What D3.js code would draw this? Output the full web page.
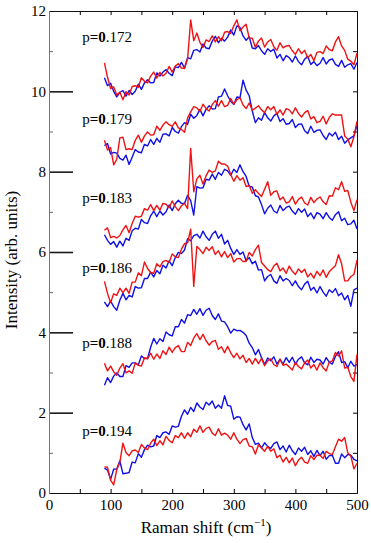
<!DOCTYPE html>
<html>
<head>
<meta charset="utf-8">
<script src="https://cdn.jsdelivr.net/npm/d3@7"></script>
</head>
<body style="margin:0">
<script>
// Raman shift grid (cm^-1), one reading every 5 cm^-1 from 90 to 500
const shifts = d3.range(90, 501, 5);

const dopings = ['0.172', '0.179', '0.183', '0.186', '0.188', '0.194'];

const blue172 = [
	10.34, 10.14, 10.2, 10.0, 9.86, 9.97, 10.02, 9.88, 10.02, 9.92,
	10.0, 10.18, 10.05, 10.21, 10.29, 10.21, 10.22, 10.46, 10.38, 10.48,
	10.54, 10.45, 10.39, 10.61, 10.59, 10.72, 10.58, 10.84, 10.81, 11.02,
	11.04, 10.98, 11.18, 11.08, 11.06, 11.25, 11.37, 11.21, 11.32, 11.25,
	11.35, 11.53, 11.4, 11.63, 11.59, 11.38, 11.27, 11.36, 11.08, 11.06,
	11.14, 11.01, 10.92, 11.06, 10.99, 11.05, 10.83, 10.92, 10.76, 10.89,
	10.84, 10.73, 10.88, 10.74, 10.66, 10.8, 10.87, 10.67, 10.74, 10.64,
	10.7, 10.84, 10.68, 10.78, 10.81, 10.67, 10.62, 10.77, 10.6, 10.66,
	10.69, 10.55, 10.72,
];
const red172 = [
	10.71, 10.35, 10.07, 10.11, 9.91, 9.98, 9.79, 9.99, 9.91, 10.12,
	10.14, 10.1, 10.34, 10.25, 10.21, 10.38, 10.48, 10.33, 10.47, 10.38,
	10.45, 10.62, 10.48, 10.63, 10.69, 10.58, 10.57, 10.81, 11.78, 11.26,
	11.45, 11.22, 11.09, 11.28, 11.24, 11.38, 11.23, 11.36, 11.26, 11.47,
	11.49, 11.44, 11.63, 11.78, 11.51, 11.6, 11.67, 11.33, 11.32, 11.1,
	11.25, 11.33, 11.1, 11.23, 11.29, 11.11, 11.02, 11.21, 11.08, 11.13,
	11.14, 11.01, 10.92, 11.06, 10.94, 11.02, 10.83, 10.92, 10.76, 10.97,
	10.99, 10.94, 11.13, 11.04, 11.01, 11.23, 11.36, 11.13, 11.02, 10.8,
	10.75, 10.66, 10.95,
];
const blue179 = [
	8.65, 8.7, 8.44, 8.48, 8.46, 8.33, 8.29, 8.41, 8.18, 8.36,
	8.55, 8.49, 8.47, 8.68, 8.64, 8.8, 8.68, 8.83, 8.73, 8.93,
	8.94, 8.89, 9.1, 9.0, 8.96, 9.12, 9.22, 9.18, 9.43, 9.33,
	9.4, 9.55, 9.39, 9.55, 9.64, 9.56, 9.57, 9.86, 9.88, 10.06,
	9.89, 9.75, 9.67, 9.86, 9.84, 10.28, 10.03, 9.89, 9.51, 9.22,
	9.34, 9.28, 9.47, 9.34, 9.26, 9.39, 9.45, 9.25, 9.32, 9.18,
	9.2, 9.3, 9.1, 9.18, 9.19, 9.02, 8.95, 9.13, 8.98, 9.03,
	9.04, 8.9, 8.8, 8.96, 8.89, 8.98, 8.8, 8.88, 8.71, 8.79,
	8.84, 8.89, 9.15,
];
const red179 = [
	8.78, 8.54, 8.6, 8.17, 8.31, 8.84, 8.86, 8.55, 8.57, 8.55,
	8.78, 8.91, 8.73, 8.89, 8.99, 8.91, 8.92, 9.13, 9.03, 9.16,
	9.24, 9.17, 9.13, 9.24, 9.09, 9.05, 8.98, 9.34, 9.49, 9.62,
	9.59, 9.5, 9.68, 9.57, 9.51, 9.67, 9.77, 9.63, 9.77, 9.62,
	9.65, 9.82, 9.68, 9.79, 9.84, 9.66, 9.57, 9.71, 9.53, 9.58,
	9.64, 9.54, 9.47, 9.62, 9.54, 9.62, 9.43, 9.54, 9.41, 9.57,
	9.54, 9.44, 9.59, 9.45, 9.36, 9.47, 9.52, 9.31, 9.37, 9.22,
	9.25, 9.38, 9.19, 9.35, 9.44, 9.41, 9.41, 9.41, 8.89, 8.81,
	8.62, 8.87, 9.25,
];
const blue183 = [
	6.43, 6.29, 6.19, 6.26, 6.12, 6.27, 6.15, 6.34, 6.29, 6.53,
	6.59, 6.57, 6.81, 6.73, 6.71, 6.9, 7.02, 6.88, 7.02, 6.92,
	7.0, 7.17, 7.03, 7.2, 7.29, 7.21, 7.21, 7.41, 7.28, 6.92,
	7.63, 7.59, 7.6, 7.81, 7.79, 7.94, 7.81, 7.98, 7.91, 8.06,
	8.02, 7.91, 8.06, 7.98, 8.17, 8.0, 7.88, 7.63, 7.62, 7.4,
	7.37, 7.18, 6.95, 7.09, 7.17, 7.02, 6.97, 7.16, 7.03, 7.11,
	7.14, 7.02, 6.94, 7.08, 6.99, 7.07, 6.88, 6.97, 6.83, 6.98,
	6.94, 6.83, 6.98, 6.86, 6.79, 6.93, 7.0, 6.78, 6.84, 6.68,
	6.7, 6.79, 6.57,
];
const red183 = [
	6.54, 6.6, 6.36, 6.39, 6.35, 6.41, 6.55, 6.66, 6.48, 6.71,
	6.89, 6.87, 6.89, 7.08, 7.04, 7.18, 7.03, 7.16, 7.04, 7.21,
	7.19, 7.1, 7.27, 7.13, 7.03, 7.15, 7.21, 7.08, 8.58, 7.5,
	7.82, 7.91, 7.69, 7.9, 8.04, 7.98, 8.02, 8.26, 8.19, 8.19,
	8.14, 7.93, 7.76, 7.9, 7.79, 7.85, 7.63, 7.66, 7.46, 7.55,
	7.46, 7.38, 7.56, 7.75, 7.41, 7.5, 7.52, 7.3, 7.37, 7.22,
	7.25, 7.38, 7.19, 7.31, 7.37, 7.22, 7.17, 7.36, 7.23, 7.32,
	7.37, 7.25, 7.18, 7.4, 7.39, 7.6, 7.55, 7.75, 7.51, 7.53,
	7.24, 7.03, 7.3,
];
const blue186 = [
	4.76, 4.64, 4.78, 4.64, 4.55, 4.8, 4.97, 4.81, 4.92, 4.88,
	5.14, 5.1, 5.11, 5.34, 5.34, 5.5, 5.38, 5.54, 5.46, 5.67,
	5.6, 5.78, 5.66, 5.86, 5.99, 5.96, 6.05, 6.33, 6.28, 6.41,
	6.44, 6.35, 6.52, 6.38, 6.29, 6.44, 6.52, 6.34, 6.44, 6.2,
	6.29, 6.09, 5.94, 6.06, 5.94, 6.0, 5.78, 5.86, 5.71, 5.77,
	5.55, 5.56, 5.28, 5.39, 5.44, 5.28, 5.22, 5.41, 5.28, 5.34,
	5.29, 5.16, 5.28, 5.14, 5.06, 5.2, 5.27, 5.05, 5.12, 4.98,
	5.14, 5.0, 4.9, 5.06, 4.99, 5.09, 4.91, 4.98, 4.81, 4.92,
	4.65, 5.06, 5.1,
];
const red186 = [
	5.27, 4.97, 4.74, 4.96, 4.92, 5.1, 4.99, 5.1, 4.97, 5.25,
	5.25, 5.48, 5.41, 5.75, 5.59, 5.49, 5.47, 5.71, 5.63, 5.76,
	5.79, 5.74, 5.95, 5.88, 5.86, 6.07, 6.21, 6.23, 6.57, 5.14,
	6.14, 6.06, 5.96, 6.12, 6.04, 6.13, 5.94, 6.03, 5.88, 6.01,
	5.86, 5.96, 5.75, 5.83, 5.84, 5.76, 5.77, 5.99, 5.9, 6.06,
	6.17, 5.74, 5.65, 5.56, 5.51, 5.65, 5.72, 5.53, 5.6, 5.47,
	5.65, 5.52, 5.44, 5.58, 5.49, 5.57, 5.38, 5.47, 5.35, 5.52,
	5.41, 5.55, 5.37, 5.51, 5.59, 5.66, 5.93, 5.71, 5.28, 5.28,
	5.39, 5.44, 5.8,
];
const blue188 = [
	2.68, 2.87, 2.75, 2.91, 2.99, 2.9, 2.9, 3.17, 3.13, 3.24,
	3.24, 3.19, 3.41, 3.35, 3.35, 3.63, 3.85, 3.71, 3.84, 3.77,
	4.01, 3.94, 3.91, 4.14, 4.14, 4.32, 4.23, 4.44, 4.42, 4.57,
	4.45, 4.59, 4.42, 4.55, 4.6, 4.42, 4.32, 4.46, 4.28, 4.26,
	4.14, 3.98, 4.08, 4.04, 4.05, 4.0, 3.92, 3.73, 3.62, 3.44,
	3.57, 3.37, 3.2, 3.36, 3.29, 3.39, 3.21, 3.33, 3.21, 3.37,
	3.25, 3.38, 3.21, 3.33, 3.39, 3.24, 3.19, 3.38, 3.25, 3.33,
	3.31, 3.21, 3.37, 3.26, 3.21, 3.4, 3.52, 3.25, 3.27, 3.12,
	3.28, 3.16, 3.2,
];
const red188 = [
	3.23, 3.04, 3.16, 3.02, 2.93, 3.11, 3.22, 2.99, 3.04, 2.98,
	3.24, 3.18, 3.16, 3.37, 3.34, 3.48, 3.33, 3.46, 3.35, 3.54,
	3.45, 3.63, 3.5, 3.62, 3.67, 3.52, 3.52, 3.75, 3.67, 3.86,
	3.97, 3.82, 3.95, 3.79, 3.68, 3.77, 3.8, 3.58, 3.64, 3.49,
	3.65, 3.49, 3.37, 3.48, 3.34, 3.43, 3.25, 3.35, 3.21, 3.35,
	3.22, 3.35, 3.17, 3.29, 3.34, 3.2, 3.15, 3.33, 3.18, 3.21,
	3.14, 3.06, 3.25, 3.15, 3.09, 3.24, 3.31, 3.11, 3.2, 3.06,
	3.24, 3.12, 3.04, 3.26, 3.29, 3.5, 3.41, 3.54, 3.11, 3.13,
	2.9, 2.78, 3.45,
];
const blue194 = [
	0.62, 0.57, 0.34, 0.59, 0.6, 0.8, 0.48, 0.49, 0.51, 0.77,
	0.75, 0.98, 0.89, 1.08, 1.19, 1.15, 1.17, 1.43, 1.38, 1.5,
	1.52, 1.46, 1.67, 1.64, 1.66, 1.91, 2.07, 1.96, 2.13, 2.03,
	2.24, 2.14, 2.08, 2.26, 2.19, 2.29, 2.11, 2.19, 2.11, 2.42,
	2.18, 2.16, 1.84, 1.9, 1.89, 1.7, 1.57, 1.72, 1.38, 1.21,
	1.24, 1.12, 1.25, 1.16, 1.11, 1.23, 1.27, 1.08, 1.17, 1.02,
	1.19, 1.05, 0.96, 1.12, 1.04, 1.14, 0.96, 1.05, 0.91, 1.06,
	0.93, 1.04, 0.84, 0.93, 0.94, 0.74, 0.74, 0.97, 0.88, 0.96,
	0.94, 0.84, 0.8,
];
const red194 = [
	0.65, 0.64, 0.32, 0.2, 0.58, 0.76, 1.24, 1.01, 0.93, 1.05,
	1.07, 1.01, 1.21, 1.12, 1.08, 1.24, 1.34, 1.18, 1.3, 1.2,
	1.41, 1.31, 1.25, 1.43, 1.38, 1.5, 1.36, 1.5, 1.4, 1.59,
	1.51, 1.67, 1.51, 1.61, 1.64, 1.49, 1.43, 1.6, 1.44, 1.49,
	1.44, 1.34, 1.5, 1.34, 1.23, 1.33, 1.36, 1.17, 1.15, 0.97,
	1.2, 1.12, 1.04, 1.16, 1.04, 1.1, 0.88, 0.94, 0.77, 0.89,
	0.75, 0.87, 0.68, 0.82, 0.89, 0.77, 0.74, 0.93, 0.83, 0.94,
	0.94, 0.86, 1.04, 0.98, 0.96, 1.15, 1.34, 1.29, 1.38, 1.0,
	0.92, 0.6, 0.74,
];

const blueSeries = [blue172, blue179, blue183, blue186, blue188, blue194];
const redSeries = [red172, red179, red183, red186, red188, red194];

const xTicks = [0, 100, 200, 300, 400, 500];
const yTicks = [0, 2, 4, 6, 8, 10, 12];

(() => {
	const width = 371;
	const height = 543;
	const plot = { left: 49, right: 357, top: 11, bottom: 493 };
	const serif = '"Liberation Serif"';

	const svg = d3.select('body').append('svg')
		.attr('width', width)
		.attr('height', height);

	const x = d3.scaleLinear()
		.domain([0, 500])
		.range([plot.left, plot.right]);
	const y = d3.scaleLinear()
		.domain([0, 12])
		.range([plot.bottom, plot.top]);

	// inward minor ticks all round the frame
	svg.append('g')
		.attr('transform', `translate(0, ${plot.top})`)
		.call(d3.axisBottom(x).tickValues(d3.range(50, 500, 50)).tickSize(4).tickFormat(''))
		.call(g => g.select('.domain').attr('stroke', '#111'));
	svg.append('g')
		.attr('transform', `translate(0, ${plot.bottom})`)
		.call(d3.axisTop(x).tickValues(d3.range(50, 500, 50)).tickSize(4).tickFormat(''))
		.call(g => g.select('.domain').attr('stroke', '#111'));
	svg.append('g')
		.attr('transform', `translate(${plot.right}, 0)`)
		.call(d3.axisLeft(y).tickValues(d3.range(1, 12)).tickSize(4).tickFormat(''))
		.call(g => g.select('.domain').attr('stroke', '#111'));
	svg.append('g')
		.attr('transform', `translate(${plot.left}, 0)`)
		.call(d3.axisRight(y).tickValues([1, 3, 5, 7, 9, 11]).tickSize(4).tickFormat(''))
		.call(g => g.select('.domain').remove())
		.call(g => g.selectAll('line').attr('stroke', '#666'));
	// long inner ticks at even intensities
	svg.append('g')
		.attr('transform', `translate(${plot.left}, 0)`)
		.call(d3.axisRight(y).tickValues([2, 4, 6, 8, 10]).tickSize(24).tickFormat(''))
		.call(g => g.select('.domain').remove())
		.call(g => g.selectAll('line').attr('stroke', '#1a1a1a').attr('stroke-width', 1.6));

	// labelled axes
	svg.append('g')
		.attr('transform', `translate(0, ${plot.bottom})`)
		.call(d3.axisBottom(x).tickValues(xTicks).tickSize(0).tickPadding(6))
		.call(g => g.select('.domain').remove());
	svg.append('g')
		.attr('transform', `translate(${plot.left}, 0)`)
		.call(d3.axisLeft(y).tickValues(yTicks).tickSize(0).tickPadding(3))
		.call(g => g.select('.domain').attr('stroke', '#777'));
	svg.selectAll('.tick text')
		.style('font-family', serif)
		.style('font-size', '15px')
		.attr('fill', '#000');

	const line = d3.line()
		.x((d, i) => x(shifts[i]))
		.y(d => y(d));

	const spectra = svg.append('g')
		.attr('fill', 'none')
		.attr('stroke-width', 1.4)
		.attr('stroke-linejoin', 'round');
	blueSeries.forEach((s) => {
		spectra.append('path').attr('d', line(s)).attr('stroke', '#1010e6');
	});
	redSeries.forEach((s) => {
		spectra.append('path').attr('d', line(s)).attr('stroke', '#f01212');
	});

	// doping labels, anchored in data units
	const labelAt = [11.23, 9.19, 7.22, 5.48, 3.61, 1.42];
	dopings.forEach((p, i) => {
		const t = svg.append('text')
			.attr('x', x(54))
			.attr('y', y(labelAt[i]))
			.attr('font-size', 15)
			.style('font-family', serif);
		t.append('tspan').text('p');
		t.append('tspan').style('font-weight', 'bold').text('=0');
		t.append('tspan').text(p.slice(1));
	});

	// axis titles
	const xTitle = svg.append('text')
		.attr('x', (plot.left + plot.right) / 2 + 3)
		.attr('y', 533)
		.attr('text-anchor', 'middle')
		.attr('font-size', 17)
		.style('font-family', serif);
	xTitle.append('tspan').text('Raman shift (cm');
	xTitle.append('tspan').attr('font-size', 11).attr('dy', -7).text('\u22121');
	xTitle.append('tspan').attr('dy', 7).text(')');

	svg.append('text')
		.attr('transform', `translate(17, ${(plot.top + plot.bottom) / 2 + 8}) rotate(-90)`)
		.attr('text-anchor', 'middle')
		.attr('font-size', 17)
		.style('font-family', serif)
		.text('Intensity (arb. units)');
})();
</script>
</body>
</html>
